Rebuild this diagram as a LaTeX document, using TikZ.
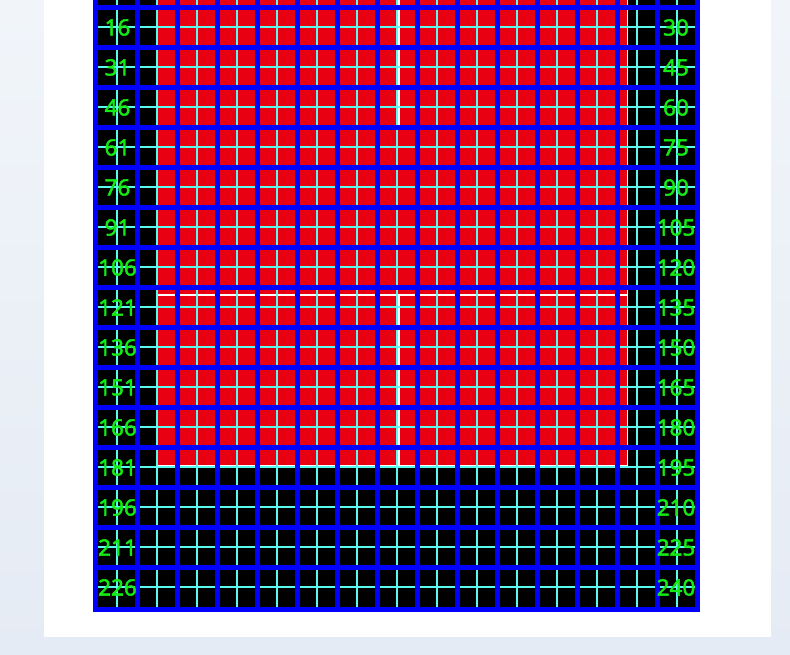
\documentclass[tikz,border=0pt]{standalone}
\usepackage{fontspec}
\setmainfont{Noto Sans}
\newfontfamily\rowfont[FakeBold=2]{Noto Sans}
\definecolor{cellred}{RGB}{232,0,18}
\definecolor{gridblue}{RGB}{0,0,255}
\definecolor{thincyan}{RGB}{90,250,240}
\definecolor{labgreen}{RGB}{20,235,20}
\definecolor{bgtop}{RGB}{241,245,250}
\definecolor{bgbottom}{RGB}{229,235,244}
\definecolor{edgeline}{RGB}{228,228,255}

\begin{document}
\begin{tikzpicture}[x=1pt,y=1pt,
	lab/.style={text=labgreen,font=\rowfont\fontsize{22.5}{24}\selectfont,inner sep=0pt},
	bluegrid/.style={gridblue,line width=4.4pt},
	cyangrid/.style={thincyan,line width=1.5pt},
	whiteline/.style={white,line width=2pt}]
			\useasboundingbox (0,0) rectangle (790,655);
			\clip (0,0) rectangle (790,655);
			%\draw [help lines] (0,0) grid (790,655);
			\shade[top color=bgtop,bottom color=bgbottom] (0,0) rectangle (790,655);
			\fill[white] (44,18) rectangle (771,655);

			% board
			\fill[black] (95.5,45.5) rectangle (697.5,700);
			\filldraw[fill=cellred,draw=white,line width=1.2pt] (157.5,189) rectangle (627.5,700);

			\draw[whiteline] (157.5,360) -- (627.5,360);
			\draw[whiteline] (397.5,529) -- (627.5,529);
			\draw[whiteline] (399,189) -- (399,360);
			\draw[whiteline] (399,529) -- (399,660);
			\draw[edgeline,line width=2pt] (95.5,328) -- (157.5,328);
			\draw[edgeline,line width=2pt] (627.5,328) -- (697.5,328);
			\draw[edgeline,line width=2pt] (95.5,208) -- (157.5,208);
			\draw[edgeline,line width=2pt] (627.5,208) -- (697.5,208);

			\foreach \k in {0,...,14}
				\draw[cyangrid] ({117+40*\k},45.5) -- ({117+40*\k},700);
			\foreach \k in {0,...,15}
				\draw[cyangrid] (95.5,{668-40*\k}) -- (697.5,{668-40*\k});

			\foreach \k in {0,...,13}
				\draw[bluegrid] ({137.5+40*\k},45.5) -- ({137.5+40*\k},700);
			\foreach \k in {0,...,14}
				\draw[bluegrid] (95.5,{647.5-40*\k}) -- (697.5,{647.5-40*\k});
			\draw[bluegrid,line width=5pt] (95.5,45.5) rectangle (697.5,700);

			% row numbers
			\foreach \r in {1,...,15} {
				\pgfmathtruncatemacro\lnum{1+15*\r}
				\pgfmathtruncatemacro\rnum{15+15*\r}
				\node[lab] (left\lnum) at (117.5,{627.5-40*(\r-1)}) {\lnum};
				\node[lab] (right\rnum) at (676,{627.5-40*(\r-1)}) {\rnum};
			}
		\end{tikzpicture}
\end{document}
